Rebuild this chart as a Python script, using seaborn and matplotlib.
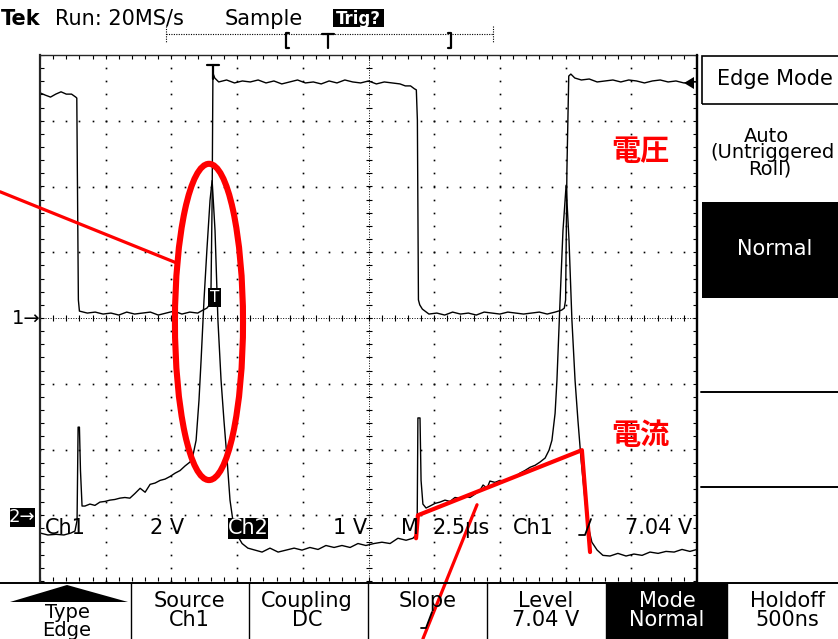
import numpy as np
import pandas as pd
import matplotlib
matplotlib.use("Agg")
import matplotlib.pyplot as plt
import seaborn as sns
from matplotlib.patches import Ellipse, Rectangle, Polygon
from matplotlib.lines import Line2D

W, H = 838, 639

# scope settings
time_per_div = 2.5          # us / div
ch1_volts_per_div = 2.0
ch2_volts_per_div = 1.0
ch1_offset_div = 0.0
ch2_offset_div = -3.0

# Ch1 (voltage): time in us from left edge, volts
ch1_t = [0.0, 0.2, 0.4, 0.6, 0.8, 1.0, 1.2, 1.36, 1.40, 1.42, 1.46, 1.50,
         1.8, 2.1, 2.4, 2.7, 3.0, 3.3, 3.6, 3.9, 4.2, 4.5, 4.8, 5.1, 5.4, 5.7,
         6.0, 6.2, 6.35, 6.45, 6.5, 6.55, 6.58, 6.65,
         6.8, 7.1, 7.4, 7.7, 8.0, 8.3, 8.6, 8.9, 9.2, 9.5, 9.8, 10.1, 10.4,
         10.7, 11.0, 11.3, 11.6, 11.9, 12.2, 12.5, 12.8, 13.1, 13.4, 13.7,
         13.9, 14.1, 14.25, 14.32, 14.36, 14.40, 14.45, 14.55,
         14.8, 15.1, 15.4, 15.7, 16.0, 16.3, 16.6, 16.9, 17.2, 17.5, 17.8,
         18.1, 18.4, 18.7, 19.0, 19.3, 19.6, 19.85, 19.95, 20.0, 20.02, 20.05,
         20.12, 20.2, 20.35, 20.6, 20.9, 21.2, 21.5, 21.8, 22.1, 22.4, 22.7,
         23.0, 23.3, 23.6, 23.9, 24.2, 24.5, 24.8, 25.0]
ch1_v = [6.85, 6.78, 6.72, 6.81, 6.88, 6.81, 6.81, 6.72, 6.69, 4.59, 0.55, 0.21,
         0.15, 0.18, 0.12, 0.15, 0.09, 0.18, 0.12, 0.15, 0.18, 0.09, 0.15, 0.21, 0.12, 0.18,
         0.15, 0.24, 0.30, 0.40, 0.43, 3.59, 7.45, 7.30,
         7.18, 7.24, 7.15, 7.21, 7.18, 7.24, 7.15, 7.21, 7.12, 7.18, 7.24, 7.15, 7.18,
         7.12, 7.21, 7.15, 7.24, 7.18, 7.15, 7.21, 7.12, 7.18, 7.15, 7.12,
         7.06, 7.06, 6.97, 6.94, 6.02, 0.55, 0.40, 0.27,
         0.12, 0.15, 0.09, 0.18, 0.12, 0.15, 0.09, 0.18, 0.15, 0.12, 0.18,
         0.15, 0.12, 0.15, 0.18, 0.12, 0.18, 0.24, 0.30, 0.55, 2.07, 4.50,
         7.36, 7.42, 7.30, 7.24, 7.27, 7.18, 7.21, 7.24, 7.18, 7.24, 7.21,
         7.15, 7.21, 7.24, 7.18, 7.21, 7.15, 7.18, 7.18]

# Ch2 (current probe)
ch2_t = [0.0, 0.30, 0.61, 0.91, 1.18, 1.33, 1.41, 1.45, 1.50, 1.54, 1.60, 1.71,
         1.90, 2.09, 2.28, 2.47, 2.66, 2.85, 3.04, 3.23, 3.42, 3.61, 3.81, 4.00,
         4.19, 4.38, 4.57, 4.76, 4.95, 5.14, 5.33, 5.52, 5.71, 5.82, 5.94, 6.05,
         6.13, 6.24, 6.35, 6.47, 6.55, 6.66, 6.77, 6.89, 7.00, 7.12, 7.23, 7.34,
         7.50, 7.69, 7.91, 8.18, 8.45, 8.75, 9.06, 9.36, 9.67, 9.97, 10.27,
         10.58, 10.88, 11.19, 11.49, 11.80, 12.10, 12.40, 12.71, 13.01, 13.32,
         13.62, 13.93, 14.19, 14.31, 14.35, 14.38, 14.46, 14.50, 14.57, 14.69,
         14.84, 15.03, 15.22, 15.41, 15.60, 15.79, 15.98, 16.17, 16.36, 16.55,
         16.74, 16.86, 17.01, 17.12, 17.31, 17.50, 17.69, 17.88, 18.07, 18.26,
         18.45, 18.65, 18.84, 19.03, 19.22, 19.37, 19.48, 19.60, 19.67, 19.79,
         19.90, 20.02, 20.13, 20.24, 20.36, 20.47, 20.59, 20.74, 20.85, 21.00,
         21.20, 21.42, 21.69, 21.99, 22.30, 22.60, 22.91, 23.21, 23.52, 23.82,
         24.13, 24.43, 24.73, 25.00]
ch2_v = [-0.27, -0.30, -0.29, -0.30, -0.27, -0.24, -0.08, 1.34, 1.34, 0.68, 0.14, 0.14,
         0.17, 0.15, 0.20, 0.21, 0.23, 0.24, 0.26, 0.27, 0.26, 0.33, 0.41, 0.35,
         0.47, 0.49, 0.53, 0.55, 0.59, 0.64, 0.68, 0.75, 0.81, 0.91, 1.14, 1.75,
         2.36, 3.27, 4.03, 4.79, 5.09, 4.33, 2.97, 2.05, 1.44, 0.84, 0.23, -0.08,
         -0.30, -0.43, -0.50, -0.53, -0.56, -0.50, -0.56, -0.53, -0.50, -0.53, -0.49,
         -0.52, -0.46, -0.49, -0.46, -0.49, -0.43, -0.46, -0.43, -0.41, -0.43,
         -0.35, -0.38, -0.35, -0.30, -0.23, 1.48, 1.48, 0.53, 0.17, 0.11,
         0.14, 0.18, 0.20, 0.23, 0.21, 0.27, 0.26, 0.29, 0.27, 0.32,
         0.38, 0.46, 0.41, 0.52, 0.50, 0.53, 0.52, 0.56, 0.58, 0.64,
         0.68, 0.73, 0.76, 0.81, 0.87, 0.99, 1.14, 1.55, 2.05, 3.27,
         4.33, 5.02, 4.18, 2.97, 2.05, 1.44, 0.84, 0.23, -0.15, -0.41,
         -0.53, -0.61, -0.62, -0.58, -0.62, -0.59, -0.61, -0.56, -0.58, -0.55,
         -0.56, -0.52, -0.55, -0.52]

# red hand-drawn marks (us, div)
ellipse_center = (6.43, -0.06)
ellipse_size = (2.59, 4.81)
pointer1_t = [-1.52, 5.18]
pointer1_d = [1.92, 0.84]
current_t = [14.31, 14.38, 20.62, 20.93]
current_d = [-3.35, -3.00, -2.01, -3.56]
pointer2_t = [16.63, 14.57]
pointer2_d = [-2.84, -4.88]

bottom_menu = [("Type", "Edge"), ("Source", "Ch1"), ("Coupling", "DC"),
               ("Slope", ""), ("Level", "7.04 V"), ("Mode", "Normal"),
               ("Holdoff", "500ns")]
bottom_centers = [67, 189, 307, 428, 546, 667, 787]

sns.set_style("white")
plt.rcParams['font.family'] = ['DejaVu Sans']


def fx(x):
    return x / W


def fy(y):
    return 1 - y / H


def rect(x0, y0, x1, y1, **kw):
    fig.add_artist(Rectangle((fx(x0), fy(y1)), (x1 - x0) / W, (y1 - y0) / H,
                             transform=fig.transFigure, **kw))


def pline(xs, ys, **kw):
    fig.add_artist(Line2D([fx(x) for x in xs], [fy(y) for y in ys],
                          transform=fig.transFigure, **kw))


def label(x, y, s, size=15, color='black', ha='center', va='center', **kw):
    fig.text(fx(x), fy(y), s, fontsize=size, color=color, ha=ha, va=va, **kw)


fig = plt.figure(figsize=(W / 100, H / 100), dpi=100)
fig.patch.set_facecolor('white')
ax = fig.add_axes([fx(40), fy(581), 657 / W, 526 / H])
ax.set_xlim(0, 10 * time_per_div)
ax.set_ylim(-4, 4)
ax.set_xticks([])
ax.set_yticks([])
for s in ['left', 'right']:
    ax.spines[s].set_linewidth(1.6)
ax.spines['top'].set_linewidth(1.0)
ax.spines['bottom'].set_visible(False)

# graticule
minor_x = np.arange(0, 25.01, 0.5)
minor_y = np.arange(-4, 4.01, 0.2)
for gx in np.arange(2.5, 24.9, 2.5):
    if abs(gx - 12.5) < 0.01:
        continue
    ax.plot(np.full(len(minor_y), gx), minor_y, ls='none', marker='s', ms=1.2,
            mew=0, color='black')
for gy in range(-3, 4):
    if gy == 0:
        continue
    ax.plot(minor_x, np.full(len(minor_x), gy), ls='none', marker='s', ms=1.2,
            mew=0, color='black')
ax.axvline(12.5, ls=(0, (1, 1.6)), lw=0.7, color='black')
ax.axhline(0, ls=(0, (1, 1.6)), lw=0.7, color='black')
ax.plot(np.full(len(minor_y), 12.5), minor_y, ls='none', marker='_', ms=4.5, mew=0.8, color='black')
ax.plot(minor_x, np.zeros(len(minor_x)), ls='none', marker='|', ms=4.5, mew=0.8, color='black')
ax.plot(np.full(len(minor_y), 0.06), minor_y, ls='none', marker='_', ms=2.6, mew=0.8, color='black')
ax.plot(np.full(len(minor_y), 24.94), minor_y, ls='none', marker='_', ms=2.6, mew=0.8, color='black')
ax.plot(minor_x, np.full(len(minor_x), 3.97), ls='none', marker='|', ms=2.6, mew=0.8, color='black')
ax.plot(minor_x, np.full(len(minor_x), -3.97), ls='none', marker='|', ms=2.6, mew=0.8, color='black')

# traces
df1 = pd.DataFrame({'t': ch1_t, 'd': np.array(ch1_v) / ch1_volts_per_div + ch1_offset_div})
df2 = pd.DataFrame({'t': ch2_t, 'd': np.array(ch2_v) / ch2_volts_per_div + ch2_offset_div})
sns.lineplot(data=df1, x='t', y='d', ax=ax, color='black', lw=1.0, sort=False, estimator=None)
sns.lineplot(data=df2, x='t', y='d', ax=ax, color='black', lw=1.0, sort=False, estimator=None)
ax.set_xlabel('')
ax.set_ylabel('')

# red annotations
ax.add_patch(Ellipse(ellipse_center, *ellipse_size, fill=False, ec='#ff0000', lw=4.4, clip_on=False, zorder=5))
ax.plot(pointer1_t, pointer1_d, color='#ff0000', lw=2.3, clip_on=False, zorder=5)
ax.plot(current_t, current_d, color='#ff0000', lw=3.0, clip_on=False, zorder=5)
ax.plot(pointer2_t, pointer2_d, color='#ff0000', lw=2.3, clip_on=False, zorder=5)
fig.text(fx(640), fy(151), '電圧', fontsize=21, color='#ff0000', weight='bold',
         ha='center', va='center', family=['Noto Sans CJK JP', 'DejaVu Sans'], zorder=6)
fig.text(fx(640), fy(435), '電流', fontsize=21, color='#ff0000', weight='bold',
         ha='center', va='center', family=['Noto Sans CJK JP', 'DejaVu Sans'], zorder=6)

# header
label(1, 25, 'Tek', size=15, ha='left', va='baseline', weight='bold')
label(55, 25, 'Run: 20MS/s', ha='left', va='baseline')
label(225, 25, 'Sample', ha='left', va='baseline')
rect(333, 9, 384, 27, fc='black', ec='none')
label(358.5, 24, 'Trig?', size=12, ha='center', va='baseline', color='white', weight='bold')
pline([166, 493], [34, 34], lw=0.8, ls=(0, (1, 1.2)), color='black')
pline([166, 166], [26, 42], lw=0.8, ls=(0, (1, 1.2)), color='black')
pline([493, 493], [26, 42], lw=0.8, ls=(0, (1, 1.2)), color='black')
pline([289, 286, 286, 289], [33, 33, 48, 48], lw=1.6, color='black')
pline([448, 451, 451, 448], [33, 33, 48, 48], lw=1.6, color='black')
pline([322, 334], [34, 34], lw=1.6, color='black')
pline([328, 328], [34, 48], lw=1.6, color='black')

# trigger markers
pline([207, 219], [65, 65], lw=1.6, color='black')
pline([213, 213], [65, 79], lw=1.6, color='black')
rect(208, 288, 221, 307, fc='black', ec='none')
label(214.5, 297.5, 'T', size=11, color='white')
fig.add_artist(Polygon([(fx(684), fy(83)), (fx(694), fy(77)), (fx(694), fy(89))],
                       closed=True, transform=fig.transFigure, fc='black', ec='none'))

# channel ground markers
label(12, 318, '1→', size=14, ha='left')
rect(10, 508, 35, 527, fc='black', ec='none')
label(22, 517, '2→', size=13, color='white')

# status line in graticule
label(45, 528, 'Ch1', ha='left')
label(150, 528, '2 V', ha='left')
rect(228, 518, 268, 539, fc='black', ec='none')
label(248, 528, 'Ch2', color='white')
label(333, 528, '1 V', ha='left')
label(401, 528, 'M', ha='left')
label(432, 528, '2.5µs', ha='left')
label(513, 528, 'Ch1', ha='left')
pline([579, 585, 591], [535, 535, 519], lw=1.3, color='black')
label(625, 528, '7.04 V', ha='left')

# bottom menu
pline([0, W], [582.5, 582.5], lw=1.4, color='black')
rect(606, 583, 727, H, fc='black', ec='none')
for sx in [131, 249, 368, 487, 606, 727]:
    pline([sx, sx], [583, H], lw=1.0, color='black')
fig.add_artist(Polygon([(fx(10), fy(602)), (fx(67), fy(585)), (fx(128), fy(602))],
                       closed=True, transform=fig.transFigure, fc='black', ec='none'))
for (top, bot), cx in zip(bottom_menu, bottom_centers):
    col = 'white' if top == 'Mode' else 'black'
    if top == 'Type':
        label(cx, 612, top, size=14, color=col)
        label(cx, 630, bot, size=14, color=col)
    else:
        label(cx, 601, top, color=col)
        if bot:
            label(cx, 620, bot, color=col)
pline([421, 426, 432], [628, 628, 612], lw=1.3, color='black')

# right menu
pline([697, 697], [55, 583], lw=1.6, color='black')
rect(702, 56, 845, 104, fc='none', ec='black', lw=1.2)
label(775, 79, 'Edge Mode')
label(766, 136, 'Auto', size=14)
label(772, 153, '(Untriggered', size=14)
label(770, 169, 'Roll)', size=14)
rect(702, 202, W, 298, fc='black', ec='none')
label(775, 249, 'Normal', color='white')
pline([701, W], [392, 392], lw=1.4, color='black')
pline([701, W], [487, 487], lw=1.4, color='black')

fig.savefig('out.png', dpi=100, facecolor='white')
